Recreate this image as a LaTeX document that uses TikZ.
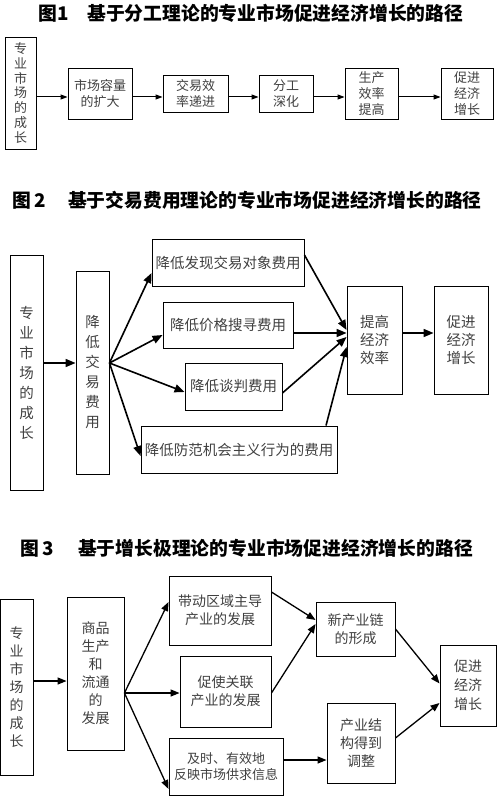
\documentclass[tikz,border=0pt]{standalone}
\usepackage{fontspec}
\setmainfont{Noto Sans CJK SC}
\usetikzlibrary{arrows.meta, calc}
\tikzset{
    % Basic node styles
    box/.style={rectangle, draw, line width=0.9pt, inner sep=0pt, align=center, text=black!75},
    box one/.style={box, font=\fontsize{13}{15.5}\selectfont},
    box two/.style={box, font=\fontsize{14.5}{19}\selectfont},
    box three/.style={box, font=\fontsize{14}{18}\selectfont},
    % Title style
    title/.style={anchor=west, inner sep=0pt, font=\fontsize{18.8}{20}\selectfont\bfseries},
}

\begin{document}
\begin{tikzpicture}[x=1pt, y=-1pt,
    arrow/.style={-{Triangle[length=7pt, width=5pt]}, line width=1pt},
    thick arrow/.style={-{Triangle[length=10pt, width=8pt]}, line width=1.6pt},
    mid arrow/.style={-{Triangle[length=9pt, width=7pt]}, line width=1.3pt},
]
    \useasboundingbox (0,0) rectangle (500,799);

    % Figure 1
    \node[title] (title1) at (38,13) {图1\hspace{1em}基于分工理论的专业市场促进经济增长的路径};
    \node[box one, minimum width=31pt, minimum height=112pt, font=\fontsize{13}{14.7}\selectfont] (grow1) at (20.5,93) {专\\业\\市\\场\\的\\成\\长};
    \node[box one, minimum width=64pt, minimum height=51pt] (size1) at (100,93.5) {市场容量\\的扩大};
    \node[box one, minimum width=65pt, minimum height=37pt] (eff1) at (195.5,93.5) {交易效\\率递进};
    \node[box one, minimum width=54pt, minimum height=37pt] (div1) at (286,93.5) {分工\\深化};
    \node[box one, minimum width=53pt, minimum height=51pt, font=\fontsize{13}{16}\selectfont] (prod1) at (371.5,93.5) {生产\\效率\\提高};
    \node[box one, minimum width=52pt, minimum height=51pt, font=\fontsize{13}{16}\selectfont] (econ1) at (467,93.5) {促进\\经济\\增长};

    \draw[arrow] ([yshift=-4pt]grow1.east) -- ([yshift=-3.5pt]size1.west);
    \draw[arrow] ([yshift=-3.5pt]size1.east) -- ([yshift=-3.5pt]eff1.west);
    \draw[arrow] ([yshift=-3.5pt]eff1.east) -- ([yshift=-3.5pt]div1.west);
    \draw[arrow] ([yshift=-3.5pt]div1.east) -- ([yshift=-3.5pt]prod1.west);
    \draw[arrow] ([yshift=-3.5pt]prod1.east) -- ([yshift=-3.5pt]econ1.west);

    % Figure 2
    \node[title] (title2) at (12,200) {图\,2\hspace{1.2em}基于交易费用理论的专业市场促进经济增长的路径};
    \node[box two, minimum width=33pt, minimum height=235pt, font=\fontsize{14.5}{20}\selectfont] (grow2) at (26.5,372.5) {专\\业\\市\\场\\的\\成\\长};
    \node[box two, minimum width=33pt, minimum height=203pt, font=\fontsize{14.5}{20}\selectfont] (cost2) at (92.5,372.5) {降\\低\\交\\易\\费\\用};
    \node[box two, minimum width=152pt, minimum height=47pt] (find2) at (228,262.5) {降低发现交易对象费用};
    \node[box two, minimum width=130pt, minimum height=46pt] (search2) at (228,325) {降低价格搜寻费用};
    \node[box two, minimum width=97pt, minimum height=47pt] (nego2) at (233.5,386.5) {降低谈判费用};
    \node[box two, minimum width=196pt, minimum height=47pt] (guard2) at (239,449.5) {降低防范机会主义行为的费用};
    \node[box two, minimum width=55pt, minimum height=108pt, font=\fontsize{14.5}{18}\selectfont] (eff2) at (374.5,340) {提高\\经济\\效率};
    \node[box two, minimum width=54pt, minimum height=108pt, font=\fontsize{14.5}{18}\selectfont] (econ2) at (461,340) {促进\\经济\\增长};

    \draw[thick arrow] ([yshift=9.5pt]grow2.east) -- ([yshift=9.5pt]cost2.west);
    \draw[thick arrow] ([yshift=9.5pt]cost2.east) -- ([yshift=-10.5pt]find2.west);
    \draw[thick arrow] ([yshift=9.5pt]cost2.east) -- ([yshift=-10pt]search2.west);
    \draw[thick arrow] ([yshift=9.5pt]cost2.east) -- ([yshift=-5.5pt]nego2.west);
    \draw[thick arrow] ([yshift=9.5pt]cost2.east) -- ([yshift=-6.5pt]guard2.west);
    \draw[thick arrow] ([yshift=7.5pt]find2.east) -- ([yshift=10pt]eff2.west);
    \draw[thick arrow] ([yshift=-8pt]search2.east) -- ([yshift=7pt]eff2.west);
    \draw[thick arrow] ([yshift=-6.5pt]nego2.east) -- ([yshift=3pt]eff2.west);
    \draw[thick arrow] ([xshift=87pt]guard2.north) -- ([yshift=-7pt]eff2.west);
    \draw[thick arrow] ([yshift=7pt]eff2.east) -- ([yshift=7pt]econ2.west);

    % Figure 3
    \node[title] (title3) at (20,548) {图\,3\hspace{1.3em}基于增长极理论的专业市场促进经济增长的路径};
    \node[box three, minimum width=33pt, minimum height=176pt] (grow3) at (16.5,687) {专\\业\\市\\场\\的\\成\\长};
    \node[box three, minimum width=57pt, minimum height=153pt] (goods3) at (95.5,673.5) {商品\\生产\\和\\流通\\的\\发展};
    \node[box three, minimum width=102pt, minimum height=69pt] (lead3) at (220,610.5) {带动区域主导\\产业的发展};
    \node[box three, minimum width=91pt, minimum height=71pt] (link3) at (225.5,691.5) {促使关联\\产业的发展};
    \node[box three, minimum width=114pt, minimum height=57pt, font=\fontsize{13}{16.5}\selectfont] (info3) at (226,766.5) {及时、有效地\\反映市场供求信息};
    \node[box three, minimum width=79pt, minimum height=54pt] (chain3) at (355.5,629) {新产业链\\的形成};
    \node[box three, minimum width=68pt, minimum height=80pt] (adjust3) at (361,743) {产业结\\构得到\\调整};
    \node[box three, minimum width=56pt, minimum height=81pt, font=\fontsize{14}{19}\selectfont] (econ3) at (468,685.5) {促进\\经济\\增长};

    \draw[mid arrow] ([yshift=6pt]grow3.east) -- ([yshift=-7.5pt]goods3.west);
    \draw[mid arrow] ([yshift=-19.5pt]goods3.east) -- ([yshift=8.5pt]lead3.west);
    \draw[mid arrow] ([yshift=-19.5pt]goods3.east) -- ([yshift=-1.5pt]link3.west);
    \draw[mid arrow] ([yshift=-19.5pt]goods3.east) -- ([yshift=-22.5pt]info3.west);
    \draw[mid arrow] ([yshift=18.5pt]lead3.east) -- ([yshift=9pt]chain3.west);
    \draw[mid arrow] ([yshift=-1.5pt]link3.east) -- ([yshift=5pt]chain3.west);
    \draw[mid arrow] ([yshift=6.5pt]info3.east) -- ([yshift=-17pt]adjust3.west);
    \draw[mid arrow] (chain3.east) -- ([yshift=2pt]econ3.west);
    \draw[mid arrow] ([yshift=5pt]adjust3.east) -- ([yshift=-17.5pt]econ3.west);
\end{tikzpicture}
\end{document}
